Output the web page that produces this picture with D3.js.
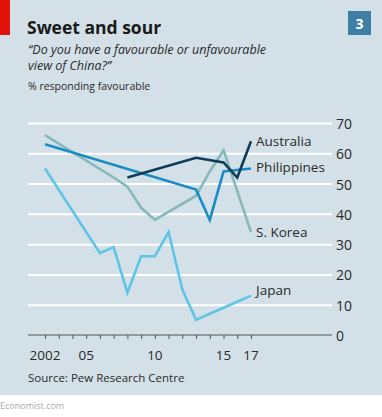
<!DOCTYPE html>
<html><head><meta charset="utf-8">
<script src="https://cdn.jsdelivr.net/npm/d3@7"></script>
<style>
html,body{margin:0;padding:0;background:#fff;}
svg{display:block;}
text{font-family:"Open Sans","DejaVu Sans",sans-serif;}
</style></head>
<body>
<script>
const years = [2002,2003,2004,2005,2006,2007,2008,2009,2010,2011,2012,2013,2014,2015,2016,2017];
const yTicks = [0,10,20,30,40,50,60,70];
const xTickLabels = [[2002,"2002"],[2005,"05"],[2010,"10"],[2015,"15"],[2017,"17"]];

const japanYears = [2002,2006,2007,2008,2009,2010,2011,2012,2013,2014,2015,2016,2017];
const japanValues = [55,27,29,14,26,26,34,15,5,7,9,11,13];
const koreaYears = [2002,2007,2008,2009,2010,2013,2014,2015,2017];
const koreaValues = [66,52,49,42,38,46,54,61,34];
const philYears = [2002,2013,2014,2015,2017];
const philValues = [63,48,38,54,55];
const ausYears = [2008,2013,2015,2016,2017];
const ausValues = [52,58.5,57,52,64];

const series = [
  {name:"S. Korea", years:koreaYears, values:koreaValues, color:"#86b9bb"},
  {name:"Japan", years:japanYears, values:japanValues, color:"#5fc4e6"},
  {name:"Philippines", years:philYears, values:philValues, color:"#1a8cc3"},
  {name:"Australia", years:ausYears, values:ausValues, color:"#0f3c58"}
];

const W=382,H=417;
const svg=d3.select("body").append("svg").attr("width",W).attr("height",H);
svg.append("rect").attr("width",W).attr("height",395).attr("fill","#d3e0e7");
svg.append("rect").attr("x",0).attr("y",0).attr("width",10).attr("height",35).attr("fill","#e3120b");

svg.append("text").attr("x",27).attr("y",34).attr("font-size",17.5).attr("font-weight","bold").attr("fill","#1a1a1a").text("Sweet and sour");
svg.append("text").attr("x",28).attr("y",54).attr("font-size",12.5).attr("font-style","italic").attr("fill","#2a2a2a").text("\u201cDo you have a favourable or unfavourable");
svg.append("text").attr("x",28).attr("y",70).attr("font-size",12.5).attr("font-style","italic").attr("fill","#2a2a2a").text("view of China?\u201d");
svg.append("text").attr("x",28).attr("y",90).attr("font-size",10.5).attr("fill","#2a2a2a").text("% responding favourable");

svg.append("rect").attr("x",348).attr("y",11).attr("width",23).attr("height",24).attr("fill","#3e7fa3");
svg.append("text").attr("x",359.5).attr("y",29).attr("text-anchor","middle").attr("font-size",14).attr("font-weight","bold").attr("fill","#fff").text("3");

const x=d3.scaleLinear().domain([2002,2017]).range([45,251]);
const y=d3.scaleLinear().domain([0,70]).range([335,123]);

const grid=d3.axisRight(y).tickValues(yTicks.slice(1)).tickSize(304).tickFormat("");
svg.append("g").attr("transform","translate(28,0)").call(grid)
  .call(g=>g.select(".domain").remove())
  .call(g=>g.selectAll("line").attr("stroke","#fff").attr("stroke-width",2));

svg.append("g").selectAll("text").data(yTicks).join("text")
  .attr("x",336).attr("y",d=>y(d)+6).attr("font-size",14).attr("fill","#2a2a2a")
  .text(d=>d);

const xa=d3.axisBottom(x).tickValues(years).tickSize(4).tickFormat("");
const gx=svg.append("g").attr("transform","translate(0,335)").call(xa);
gx.select(".domain").remove();
gx.selectAll("line").attr("stroke","#555").attr("stroke-width",1);
svg.append("line").attr("x1",28).attr("x2",332).attr("y1",335).attr("y2",335).attr("stroke","#555").attr("stroke-width",1.2);
svg.append("g").selectAll("text").data(xTickLabels).join("text")
  .attr("x",d=>x(d[0])).attr("y",360).attr("text-anchor","middle").attr("font-size",13.5).attr("fill","#2a2a2a")
  .text(d=>d[1]);

const line=d3.line().x(d=>x(d[0])).y(d=>y(d[1]));
series.forEach(s=>{
  const pts=s.years.map((yr,i)=>[yr,s.values[i]]);
  svg.append("path").attr("d",line(pts)).attr("fill","none").attr("stroke",s.color)
    .attr("stroke-width",2.6).attr("stroke-linejoin","miter");
});

const labels=[["Australia",64],["Philippines",55.5],["S. Korea",34],["Japan",15]];
svg.append("g").selectAll("text").data(labels).join("text")
  .attr("x",256).attr("y",d=>y(d[1])+5).attr("font-size",13.5).attr("fill","#2a2a2a")
  .text(d=>d[0]);

svg.append("text").attr("x",28).attr("y",382).attr("font-size",11.5).attr("fill","#2a2a2a").text("Source: Pew Research Centre");
svg.append("text").attr("x",0).attr("y",409).attr("font-size",9).attr("fill","#aaa").text("Economist.com");
</script>
</body></html>
